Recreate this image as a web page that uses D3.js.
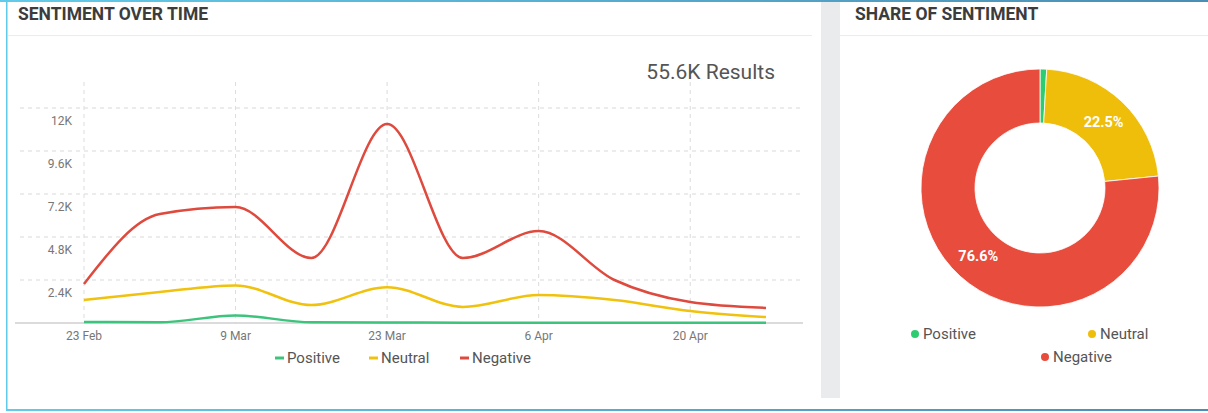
<!DOCTYPE html>
<html>
<head>
<meta charset="utf-8">
<script src="https://cdn.jsdelivr.net/npm/d3@7"></script>
<style>
  body { margin: 0; background: #fff; font-family: Roboto, "Noto Sans", sans-serif; }
  svg { display: block; }
</style>
</head>
<body>
<div id="chart"></div>
<script>
// weekly buckets, values in mentions
var weeks = ["2021-02-23","2021-03-02","2021-03-09","2021-03-16","2021-03-23",
             "2021-03-30","2021-04-06","2021-04-13","2021-04-20","2021-04-27"];
var positive = [60, 40, 420, 40, 30, 20, 20, 20, 20, 20];
var neutral  = [1280, 1730, 2100, 1000, 2000, 900, 1560, 1280, 670, 330];
var negative = [2180, 6080, 6470, 3630, 11100, 3630, 5130, 2400, 1170, 840];
var yTicks = [2400, 4800, 7200, 9600, 12000];
var xTicks = ["2021-02-23","2021-03-09","2021-03-23","2021-04-06","2021-04-20"];
var shareNames = ["Positive", "Neutral", "Negative"];
var shareValues = [0.9, 22.5, 76.6];
var totalLabel = "55.6K Results";

var colors = { Positive: "#3cc47c", Neutral: "#f0c20e", Negative: "#de4a3d" };
var pieColors = { Positive: "#2ecc71", Neutral: "#efbe0b", Negative: "#e84c3d" };

var W = 1208, H = 413;
var parse = d3.timeParse("%Y-%m-%d");
var dates = weeks.map(parse);

var svg = d3.select("#chart").append("svg")
    .attr("width", W).attr("height", H);

// frame
var grad = svg.append("defs").append("linearGradient").attr("id", "topBorder");
grad.append("stop").attr("offset", "0%").attr("stop-color", "#62cbe9");
grad.append("stop").attr("offset", "100%").attr("stop-color", "#4b8db4");
svg.append("rect").attr("x", 0).attr("y", 0).attr("width", W).attr("height", 2)
    .attr("fill", "url(#topBorder)");
svg.append("rect").attr("x", 6).attr("y", 0).attr("width", 1.5).attr("height", 410)
    .attr("fill", "#5fcaea");
svg.append("rect").attr("x", 6).attr("y", 409).attr("width", W - 6).attr("height", 2)
    .attr("fill", "url(#topBorder)");

// gap between panels
svg.append("rect").attr("x", 821).attr("y", 2).attr("width", 19).attr("height", 396)
    .attr("fill", "#e9ebed");

// headers
svg.append("line").attr("x1", 8).attr("x2", 812).attr("y1", 35.5).attr("y2", 35.5)
    .attr("stroke", "#ececec");
svg.append("line").attr("x1", 840).attr("x2", W).attr("y1", 35.5).attr("y2", 35.5)
    .attr("stroke", "#ececec");
svg.append("text").attr("x", 18).attr("y", 20)
    .attr("font-size", 17.5).attr("font-weight", 700).attr("fill", "#3c3c3c")
    .text("SENTIMENT OVER TIME");
svg.append("text").attr("x", 855).attr("y", 20)
    .attr("font-size", 17.5).attr("font-weight", 700).attr("fill", "#3c3c3c")
    .text("SHARE OF SENTIMENT");

svg.append("text").attr("x", 775).attr("y", 79).attr("text-anchor", "end")
    .attr("font-size", 21).attr("fill", "#555").text(totalLabel);

// line chart
var x = d3.scaleTime().domain([dates[0], dates[dates.length - 1]]).range([84, 766]);
var y = d3.scaleLinear().domain([0, 12000]).range([323, 108]);

var g = svg.append("g");

g.selectAll(".hgrid").data(yTicks).enter().append("line")
    .attr("x1", 20).attr("x2", 802)
    .attr("y1", function(d) { return y(d); }).attr("y2", function(d) { return y(d); })
    .attr("stroke", "#d9d9d9").attr("stroke-dasharray", "4,4");

g.selectAll(".vgrid").data(xTicks.map(parse)).enter().append("line")
    .attr("x1", function(d) { return x(d); }).attr("x2", function(d) { return x(d); })
    .attr("y1", 82).attr("y2", 323)
    .attr("stroke", "#dcdcdc").attr("stroke-dasharray", "4,4");

g.selectAll(".ylab").data(yTicks).enter().append("text")
    .attr("x", 72).attr("y", function(d) { return y(d) + 17; })
    .attr("text-anchor", "end").attr("font-size", 12).attr("fill", "#777")
    .text(function(d) { return (d / 1000) + "K"; });

g.selectAll(".xlab").data(xTicks.map(parse)).enter().append("text")
    .attr("x", function(d) { return x(d); }).attr("y", 340)
    .attr("text-anchor", "middle").attr("font-size", 12).attr("fill", "#777")
    .text(d3.timeFormat("%-d %b"));

g.append("line").attr("x1", 15).attr("x2", 803).attr("y1", 323).attr("y2", 323)
    .attr("stroke", "#cfcfcf").attr("stroke-width", 1.5);

var line = d3.line()
    .x(function(d, i) { return x(dates[i]); })
    .y(function(d) { return y(d); })
    .curve(d3.curveMonotoneX);

[["Positive", positive], ["Neutral", neutral], ["Negative", negative]].forEach(function(s) {
    g.append("path").datum(s[1])
        .attr("d", line)
        .attr("fill", "none")
        .attr("stroke", colors[s[0]])
        .attr("stroke-width", 2.5);
});

var legX = [275, 369, 460];
var leg = g.selectAll(".leg").data(shareNames).enter().append("g")
    .attr("transform", function(d, i) { return "translate(" + legX[i] + ",358)"; });
leg.append("line").attr("x1", 0).attr("x2", 9)
    .attr("stroke", function(d) { return colors[d]; }).attr("stroke-width", 3);
leg.append("text").attr("x", 12).attr("dy", "0.35em")
    .attr("font-size", 15).attr("fill", "#555")
    .text(function(d) { return d; });

// donut
var cx = 1040, cy = 188;
var pie = d3.pie().sort(null).value(function(d) { return d; });
var arc = d3.arc().innerRadius(65).outerRadius(119);
var arcs = pie(shareValues);
var dg = svg.append("g").attr("transform", "translate(" + cx + "," + cy + ")");
dg.selectAll("path").data(arcs).enter().append("path")
    .attr("d", arc)
    .attr("fill", function(d, i) { return pieColors[shareNames[i]]; })
    .attr("stroke", "#fff").attr("stroke-width", 0.8);
dg.selectAll(".pct").data(arcs.filter(function(d) { return d.value > 5; })).enter().append("text")
    .attr("transform", function(d) { return "translate(" + arc.centroid(d) + ")"; })
    .attr("text-anchor", "middle").attr("dy", "0.35em")
    .attr("font-size", 14.5).attr("font-weight", 700).attr("fill", "#fff")
    .text(function(d) { return d.value.toFixed(1) + "%"; });

var dotPos = [[915, 334], [1092, 334], [1045, 357]];
var dl = svg.selectAll(".dleg").data(shareNames).enter().append("g")
    .attr("transform", function(d, i) { return "translate(" + dotPos[i] + ")"; });
dl.append("circle").attr("r", 4)
    .attr("fill", function(d) { return pieColors[d]; });
dl.append("text").attr("x", 8).attr("dy", "0.35em")
    .attr("font-size", 15).attr("fill", "#555")
    .text(function(d) { return d; });
</script>
</body>
</html>
